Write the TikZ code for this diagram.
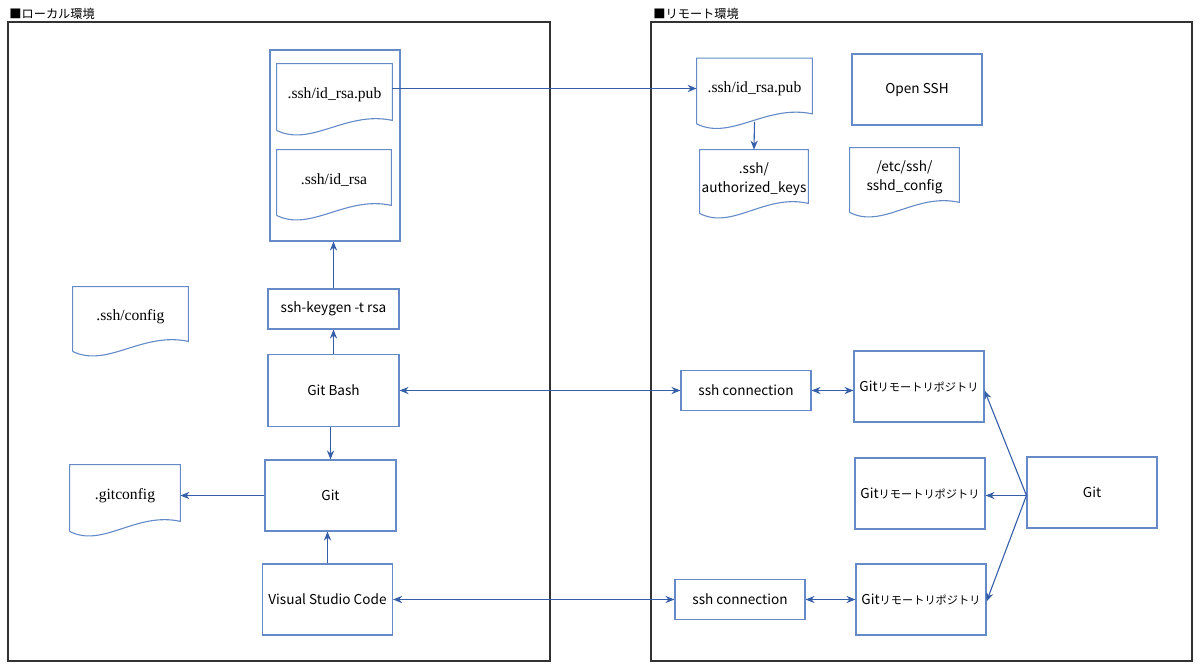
\documentclass[tikz,border=0pt]{standalone}
\usepackage{fontspec}
\setmainfont{Liberation Serif}
\newfontfamily\jp{Noto Sans CJK JP}
\usetikzlibrary{arrows.meta,calc}
\definecolor{boxc}{RGB}{100,138,200}
\definecolor{arrc}{RGB}{52,94,168}
\definecolor{framec}{RGB}{50,50,50}
\newcommand\mydoc[1]{%
  \draw[boxline] ($(#1.south west)+(0,5)$) -- (#1.north west) -- (#1.north east) -- ($(#1.south east)+(0,-5)$)
    .. controls ($(#1.south west)!0.6!(#1.south east)+(0,-15)$) and ($(#1.south west)!0.3!(#1.south east)+(0,22)$) .. ($(#1.south west)+(0,5)$);}
\newcommand\repotext{Git{\fontsize{5.6}{7}\selectfont リモートリポジトリ}}
\begin{document}
\begin{tikzpicture}[x=0.5pt,y=-0.5pt,
  boxline/.style={draw=boxc,line width=0.55pt},
  box/.style={boxline,rectangle,inner sep=0pt,font=\jp\fontsize{6.8}{8}\selectfont,align=center},
  doc/.style={rectangle,inner sep=0pt,font=\fontsize{7.8}{9}\selectfont,align=center},
  sdoc/.style={doc,font=\jp\fontsize{6.8}{9.6}\selectfont},
  arr/.style={draw=arrc,line width=0.55pt,-{Stealth[length=4.5pt,width=3.6pt]}},
  arr2/.style={draw=arrc,line width=0.55pt,{Stealth[length=4.5pt,width=3.6pt]}-{Stealth[length=4.5pt,width=3.6pt]}},
  frame/.style={draw=framec,line width=0.7pt},
  ttl/.style={anchor=west,inner sep=0pt,font=\jp\fontsize{6.1}{7}\selectfont}]
\useasboundingbox (0,0) rectangle (1200,669);
% frames
\node[ttl] (tl) at (9,14) {■ローカル環境};
\node[ttl] (tr) at (653,14) {■リモート環境};
\draw[frame] (8,22) rectangle (550,661);
\draw[frame] (651,22) rectangle (1192,661);
% local
\node[box,minimum width=65pt,minimum height=95.5pt] (grp) at (335,145.5) {};
\node[doc,minimum width=57.5pt,minimum height=30.5pt] (pubL) at (334.5,94.5) {.ssh/id\_rsa.pub};
\node[doc,minimum width=57pt,minimum height=30pt] (rsa) at (334,180) {.ssh/id\_rsa};
\node[box,minimum width=65.5pt,minimum height=20pt] (keygen) at (333.5,309) {ssh-keygen -t rsa};
\node[box,minimum width=65.5pt,minimum height=36pt] (gb) at (333.5,390.5) {Git Bash};
\node[box,minimum width=65.5pt,minimum height=35.5pt] (gitL) at (330.5,495.5) {Git};
\node[box,minimum width=65pt,minimum height=35.5pt] (vsc) at (327.5,599.5) {Visual Studio Code};
\node[doc,minimum width=57.5pt,minimum height=29.5pt] (sshcfg) at (130.5,316.5) {.ssh/config};
\node[doc,minimum width=55pt,minimum height=30.5pt] (gitcfg) at (125,495.5) {.gitconfig};
\mydoc{pubL}\mydoc{rsa}\mydoc{sshcfg}\mydoc{gitcfg}
% remote
\node[doc,minimum width=57.5pt,minimum height=30pt] (pubR) at (754.5,88.5) {.ssh/id\_rsa.pub};
\node[sdoc,minimum width=54pt,minimum height=29pt] (authk) at (754,179) {.ssh/\\authorized\_keys};
\node[box,minimum width=65pt,minimum height=35.5pt] (ossh) at (917,89.5) {Open SSH};
\node[sdoc,minimum width=54.5pt,minimum height=29.5pt] (sshd) at (904.5,177.5) {/etc/ssh/\\sshd\_config};
\mydoc{pubR}\mydoc{authk}\mydoc{sshd}
\node[box,minimum width=65pt,minimum height=20pt] (conn1) at (746,390.5) {ssh connection};
\node[box,minimum width=65pt,minimum height=35.5pt] (repo1) at (919,386.5) {\repotext};
\node[box,minimum width=65pt,minimum height=35.5pt] (repo2) at (920,493.5) {\repotext};
\node[box,minimum width=65pt,minimum height=20pt] (conn2) at (740,599.5) {ssh connection};
\node[box,minimum width=65pt,minimum height=35.5pt] (repo3) at (921,599.5) {\repotext};
\node[box,minimum width=65pt,minimum height=35.5pt] (gitR) at (1092,492.5) {Git};
% connectors
\draw[arr] (keygen.north) -- (keygen.north |- grp.south);
\draw[arr] (gb.north) -- (keygen.south);
\draw[arr] (gitL.north |- gb.south) -- (gitL.north);
\draw[arr] (vsc.north) -- (vsc.north |- gitL.south);
\draw[arr] (gitL.west) -- (gitcfg.east);
\draw[arr] (pubL.east |- pubR.west) -- (pubR.west);
\draw[arr] ($(pubR.south)+(0,3)$) -- (authk.north);
\draw[arr2] (gb.east) -- (conn1.west);
\draw[arr2] (vsc.east) -- (conn2.west);
\draw[arr2] (conn1.east) -- (conn1.east -| repo1.west);
\draw[arr2] (conn2.east) -- (conn2.east -| repo3.west);
\coordinate (gsrc) at ($(gitR.west)+(0,3)$);
\draw[arr] (gsrc) -- ($(repo1.east)+(0,4)$);
\draw[arr] (gsrc) -- (gsrc -| repo2.east);
\draw[arr] (gsrc) -- ($(repo3.east)+(0,2)$);
\end{tikzpicture}
\end{document}
